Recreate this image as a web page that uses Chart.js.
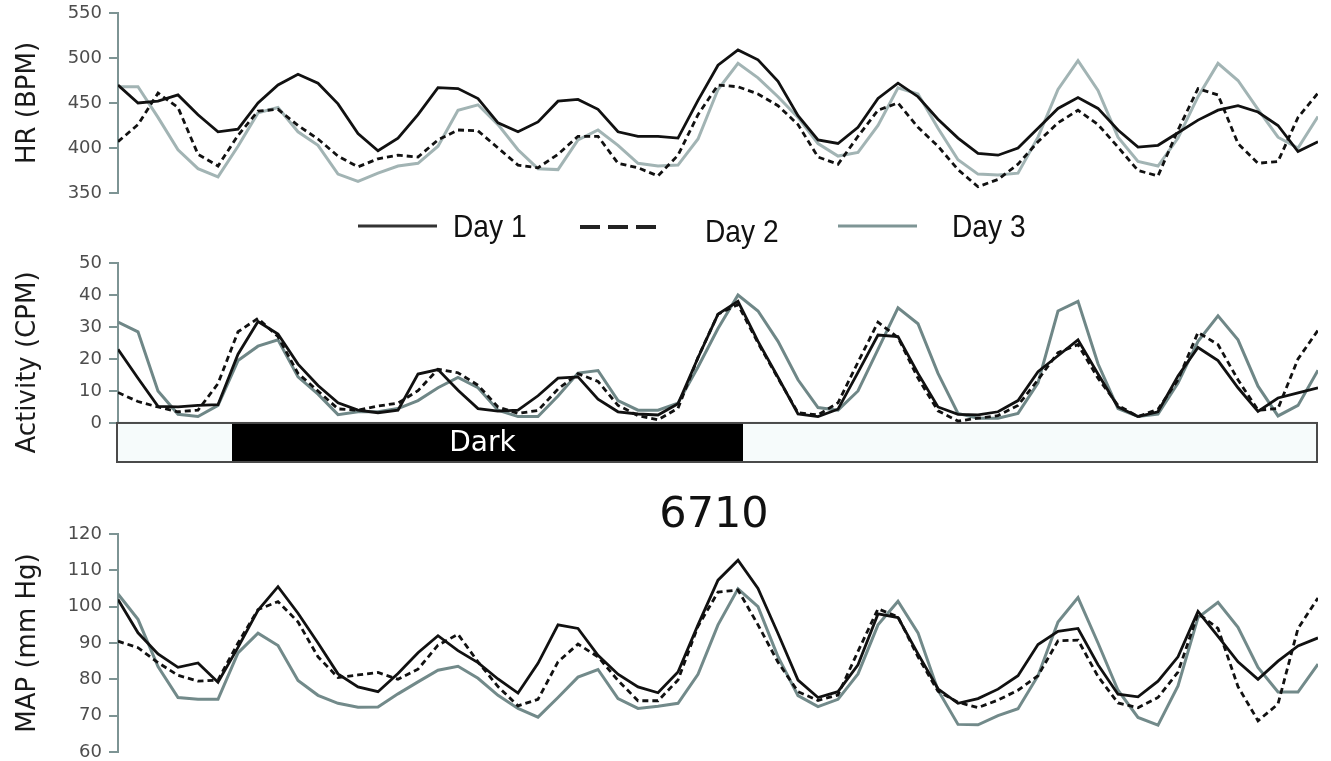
<!DOCTYPE html>
<html>
<head>
<meta charset="utf-8">
<script src="https://cdn.jsdelivr.net/npm/chart.js@4/dist/chart.umd.min.js"></script>
<style>
  html, body { margin: 0; padding: 0; background: #fff; }
  body { position: relative; width: 1331px; height: 761px; overflow: hidden; }
  canvas { position: absolute; left: 0; }
  .legend-text {
    position: absolute; font-family: 'Liberation Sans', Arial, sans-serif;
    font-size: 32px; line-height: 32px; color: #111; white-space: nowrap;
    transform: scaleX(0.88); transform-origin: 0 0;
  }
  #figTitle {
    position: absolute; left: 714px; top: 491px; transform: translateX(-50%);
    font-family: 'DejaVu Sans', sans-serif; font-size: 43px; line-height: 43px; color: #111;
  }
  svg { position: absolute; left: 0; top: 0; pointer-events: none; }
</style>
</head>
<body>
<canvas id="hrChart" width="1331" height="240" style="top:-17px"></canvas>
<canvas id="actChart" width="1331" height="259" style="top:233px"></canvas>
<canvas id="mapChart" width="1331" height="278" style="top:504px"></canvas>

<svg width="1331" height="761">
  <line x1="358" y1="226" x2="437" y2="226" stroke="#333" stroke-width="3"/>
  <line x1="580" y1="227" x2="657" y2="227" stroke="#222" stroke-width="4" stroke-dasharray="20 8"/>
  <line x1="838" y1="226" x2="917" y2="226" stroke="#7e9595" stroke-width="3"/>
</svg>
<div class="legend-text" id="lg0" style="left:453px; top:210px"></div>
<div class="legend-text" id="lg1" style="left:705px; top:215px"></div>
<div class="legend-text" id="lg2" style="left:952px; top:210px"></div>
<div id="figTitle"></div>

<script>
// sample index along the recording (one sample ~ every 20 px of the original plot)
const samples = [0,1,2,3,4,5,6,7,8,9,10,11,12,13,14,15,16,17,18,19,20,
  21,22,23,24,25,26,27,28,29,30,31,32,33,34,35,36,37,38,39,40,
  41,42,43,44,45,46,47,48,49,50,51,52,53,54,55,56,57,58,59,60];

const seriesNames = ['Day 1', 'Day 2', 'Day 3'];
const figureTitle = '6710';

// heart rate (BPM)
const hrDay1 = [470,450,452,459,437,418,421,450,470,482,
  472,449,416,397,411,437,467,466,455,428,
  418,429,452,454,443,418,413,413,411,453,
  492,509,498,474,436,409,405,423,455,472,
  457,432,411,394,392,400,422,444,456,444,
  420,401,403,417,431,442,447,440,425,396,
  407];
const hrDay2 = [407,426,461,445,393,380,414,441,443,425,
  410,391,379,388,392,390,409,420,419,400,
  381,378,393,413,413,383,378,369,392,437,
  470,468,460,447,426,390,382,413,442,450,
  423,402,376,357,365,382,407,428,442,426,
  401,375,369,420,466,459,405,383,385,434,
  461];
const hrDay3 = [468,468,434,398,377,368,402,439,445,418,
  403,371,363,372,380,383,402,442,448,426,
  398,377,376,409,420,403,383,380,381,410,
  465,494,478,457,434,405,391,395,425,467,
  460,422,387,371,370,372,412,465,497,464,
  412,385,380,411,457,494,475,443,412,400,
  435];

// activity (CPM)
const actDay1 = [23,14,5.2,5,5.5,5.7,21.5,31.7,27.8,18.4,
  11.7,6.3,4,3.2,4,15.3,16.7,10.2,4.5,3.7,
  4,8.5,14,14.4,7.4,3.5,2.8,2.5,6,20.4,
  34,38,25.5,14.3,2.8,2,4.3,15.8,27.5,27,
  15.5,5,2.7,2.5,3.5,7,16,21,26,15.3,
  5,2,3.5,14.7,23.6,19.5,11,3.6,7.8,9.4,
  11];
const actDay2 = [9.5,6.7,5,3.5,4,12.3,28.5,32.7,27,15.5,
  10,4.4,4,5.3,6.2,10.1,16.8,15.7,11.8,5,
  3,3.9,10.6,15.4,13,5.5,2.3,1,4.6,20.5,
  34,37,25,14,3.2,2.5,6.3,19,31.5,26.7,
  14,3.8,0.6,1.5,2.3,5.5,13.5,22,24.5,14,
  5.5,2,4.3,13.5,28.3,24.5,13.5,4,4.5,20,
  29];
const actDay3 = [31.5,28.5,10,2.7,2,5.5,19.5,24,26,14.4,
  9,2.6,3.5,3.5,4.5,7,11,14.2,11,4,
  2,2,8.4,15.6,16.4,7,4,4,6.2,17.5,
  29.5,40,35,25.5,13.5,4.8,4,10,23,36,
  31,15.5,3,1.5,1.5,3,12.5,35,38,18.5,
  4.5,2,2.8,12.5,25.5,33.5,26,11.5,2.2,5.5,
  16.5];

// mean arterial pressure (mm Hg)
const mapDay1 = [102,92.8,87,83.3,84.5,79.2,88.8,99,105.5,98.2,
  90,81.5,77.9,76.6,81.6,87.3,92,87.9,84.6,80.1,
  76.2,84.4,95,94,86.6,81.4,77.9,76.3,82,95,
  107.3,112.8,105,92.6,79.8,75,76.6,84,98,97,
  87,77.4,73.4,74.7,77.3,81,89.6,93.2,94,84,
  75.9,75.2,79.5,86.2,98.7,91.8,84.8,80,85,89.2,
  91.4];
const mapDay2 = [90.5,88.7,84.6,81.1,79.5,79.8,90,99.2,101.4,95.8,
  86.2,80.5,81.2,81.9,80,82.8,89.4,92.4,84.8,78,
  72.7,74.5,84.8,89.7,86.2,79.7,74.1,74.1,79.8,94.6,
  104,104.6,95,84.7,76.6,74.2,75.7,87.7,99.4,97.2,
  86.2,76.7,73.7,72.2,74.3,77,81,90.6,90.8,80.8,
  73.5,72.2,75,82,98.1,94,78,68.6,73.2,94,
  102.4];
const mapDay3 = [103.5,96.5,83.5,75,74.5,74.5,87.3,92.7,89.3,79.7,
  75.6,73.4,72.3,72.4,76,79.3,82.5,83.6,80.3,75.6,
  72,69.6,75,80.6,82.7,74.7,72,72.6,73.4,81.4,
  95,104.9,100,86.2,75.5,72.5,74.5,81.5,95,101.5,
  92.8,77,67.6,67.5,70,71.9,81,95.8,102.5,90,
  77,69.5,67.4,78.2,97,101.2,94.3,83.3,76.5,76.5,
  84.2];

// tick labels
const hrTicks = [350, 400, 450, 500, 550];
const actTicks = [0, 10, 20, 30, 40, 50];
const mapTicks = [60, 70, 80, 90, 100, 110, 120];

// light / dark phases in sample units
const phaseStarts = [0, 5.7, 31.25];
const phaseEnds = [5.7, 31.25, 60];
const phaseDark = [false, true, false];
const darkLabel = 'Dark';

const axisColor = '#7d9494';

document.getElementById('lg0').textContent = seriesNames[0];
document.getElementById('lg1').textContent = seriesNames[1];
document.getElementById('lg2').textContent = seriesNames[2];
document.getElementById('figTitle').textContent = figureTitle;

// light/dark bar under the activity trace, drawn through the chart scales
const photoperiod = {
  id: 'photoperiod',
  beforeDatasetsDraw(chart, args, opts) {
    const { ctx, scales: { x, y } } = chart;
    const top = y.getPixelForValue(0);
    const bottom = y.getPixelForValue(opts.floor);
    ctx.save();
    phaseStarts.forEach((s, i) => {
      const x0 = x.getPixelForValue(s);
      const x1 = x.getPixelForValue(phaseEnds[i]);
      ctx.fillStyle = phaseDark[i] ? '#000' : '#f6fbfb';
      ctx.fillRect(x0, top, x1 - x0, bottom - top);
      if (phaseDark[i]) {
        ctx.fillStyle = '#fff';
        ctx.font = '28px "DejaVu Sans"';
        ctx.textAlign = 'center';
        ctx.textBaseline = 'middle';
        ctx.fillText(darkLabel, (x0 + x1) / 2 - 5, (top + bottom) / 2 + 1);
      }
    });
    const left = x.getPixelForValue(phaseStarts[0]);
    const right = x.getPixelForValue(phaseEnds[phaseEnds.length - 1]);
    ctx.strokeStyle = '#4a4a4a';
    ctx.lineWidth = 2;
    ctx.strokeRect(left - 1, top, right - left, bottom - top);
    ctx.restore();
  }
};

function makePanel(id, values, gray, ticks, title, yMin, yMax, extra) {
  return new Chart(document.getElementById(id), {
    type: 'line',
    data: {
      labels: samples,
      datasets: [
        { label: seriesNames[0], data: values[0], borderColor: '#111', borderWidth: 2.8 },
        { label: seriesNames[1], data: values[1], borderColor: '#111', borderWidth: 2.8, borderDash: [6, 4] },
        { label: seriesNames[2], data: values[2], borderColor: gray, borderWidth: 3 }
      ]
    },
    plugins: extra ? [photoperiod] : [],
    options: {
      responsive: false,
      animation: false,
      layout: { padding: { left: 0, right: 13, top: 30, bottom: 30 } },
      elements: { point: { radius: 0 }, line: { tension: 0 } },
      plugins: {
        legend: { display: false },
        tooltip: { enabled: false },
        photoperiod: { floor: yMin }
      },
      scales: {
        x: { type: 'linear', min: 0, max: 60, display: false },
        y: {
          min: yMin,
          max: yMax,
          afterBuildTicks: s => { s.ticks = ticks.map(v => ({ value: v })); },
          afterFit: s => { s.width = 118; },
          border: { display: true, color: axisColor, width: 2 },
          grid: { drawOnChartArea: false, drawTicks: true, tickLength: 9, color: axisColor, lineWidth: 2 },
          ticks: { color: '#4d4d4d', font: { family: 'DejaVu Sans', size: 18 }, padding: 7 },
          title: {
            display: true, text: title, color: '#1a1a1a',
            font: { family: 'DejaVu Sans', size: 26 }, padding: { top: 13, bottom: 0 }
          }
        }
      }
    }
  });
}

makePanel('hrChart', [hrDay1, hrDay2, hrDay3], '#a2b4b4', hrTicks, 'HR (BPM)', 350, 550, false);
makePanel('actChart', [actDay1, actDay2, actDay3], '#6f8787', actTicks, 'Activity (CPM)', -12.2, 50, true);
makePanel('mapChart', [mapDay1, mapDay2, mapDay3], '#728a8a', mapTicks, 'MAP (mm Hg)', 60, 120, false);
</script>
</body>
</html>
